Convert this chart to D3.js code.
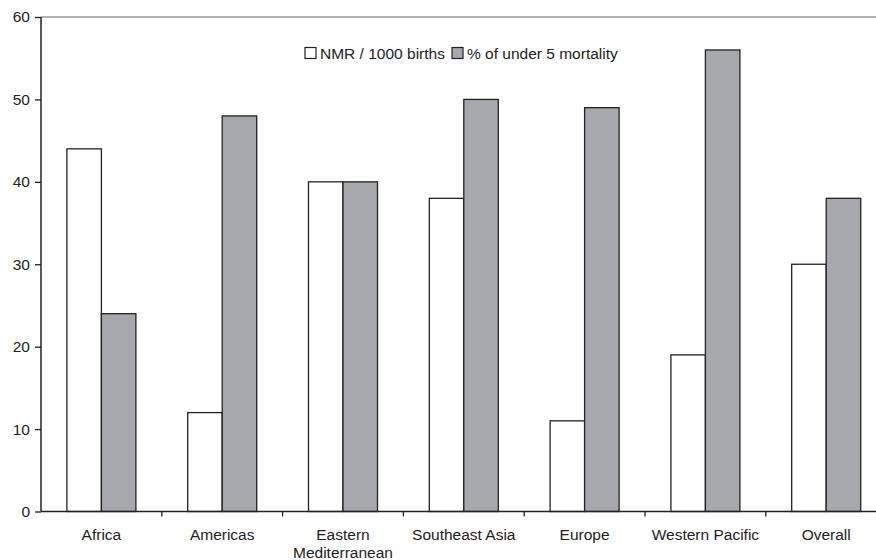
<!DOCTYPE html>
<html><head><meta charset="utf-8">
<script src="https://cdn.jsdelivr.net/npm/d3@7"></script>
<style>body{margin:0;background:#fff}svg{display:block}text{font-family:"Liberation Sans",Arial,sans-serif}</style>
</head><body>
<svg id="c" width="876" height="560"></svg>
<script>
const categories = ["Africa","Americas","Eastern Mediterranean","Southeast Asia","Europe","Western Pacific","Overall"];
const nmr = [44,12,40,38,11,19,30];
const under5 = [24,48,40,50,49,56,38];
const seriesNames = ["NMR / 1000 births","% of under 5 mortality"];
const yTicks = [0,10,20,30,40,50,60];

const svg = d3.select("#c");
const FS = 15.5;
const x0 = 41, band = 120.8;
const x = d3.scaleBand().domain(categories).range([x0, x0 + band*categories.length]).paddingInner(0).paddingOuter(0);
const y = d3.scaleLinear().domain([0,60]).range([511.5,17]);
const sub = d3.scaleBand().domain([0,1]).range([0,69]);
const colors = ["#ffffff","#a7a8ab"];
const ink = "#222";

// top line at 60
svg.append("line").attr("x1",x0).attr("x2",876).attr("y1",y(60)).attr("y2",y(60)).attr("stroke","#999").attr("stroke-width",1.5);

// bars
const data = categories.map((c,i)=>({c, v:[nmr[i],under5[i]]}));
const g = svg.append("g");
data.forEach(d=>{
  d.v.forEach((v,j)=>{
    const cx = x(d.c) + x.bandwidth()/2 - 34.5;
    g.append("rect").attr("x",cx + sub(j)).attr("y",y(v)).attr("width",sub.bandwidth()).attr("height",y(0)-y(v))
      .attr("fill",colors[j]).attr("stroke",ink).attr("stroke-width",1.3);
  });
});

// y axis
const ya = svg.append("g").attr("transform",`translate(${x0},0)`)
  .call(d3.axisLeft(y).tickValues(yTicks).tickSize(6).tickPadding(5).tickFormat(d3.format("d")));
ya.select(".domain").attr("stroke",ink).attr("stroke-width",1.5).attr("d",`M0,${y(0)}V${y(60)}`);
ya.selectAll(".tick line").attr("stroke",ink).attr("stroke-width",1.3);
ya.selectAll(".tick text").attr("fill",ink).attr("font-size",FS).attr("font-family","Liberation Sans, Arial, sans-serif");

// x axis
const xa = svg.append("g").attr("transform",`translate(0,${y(0)})`);
xa.append("line").attr("x1",x0).attr("x2",876).attr("y1",0).attr("y2",0).attr("stroke",ink).attr("stroke-width",1.5);
categories.forEach((c,i)=>{
  if(i>0) xa.append("line").attr("x1",x(c)).attr("x2",x(c)).attr("y1",0).attr("y2",5).attr("stroke",ink).attr("stroke-width",1.3);
  const t = xa.append("text").attr("x",x(c)+x.bandwidth()/2).attr("y",28.5).attr("text-anchor","middle")
    .attr("fill",ink).attr("font-size",FS);
  if(c==="Eastern Mediterranean"){
    t.append("tspan").attr("x",x(c)+x.bandwidth()/2).attr("dy",0).text("Eastern");
    t.append("tspan").attr("x",x(c)+x.bandwidth()/2).attr("dy",17.5).text("Mediterranean");
  } else t.text(c);
});

// legend
const lg = svg.append("g");
const lx = [305, 452];
seriesNames.forEach((s,j)=>{
  lg.append("rect").attr("x",lx[j]).attr("y",47.5).attr("width",11).attr("height",11).attr("fill",colors[j]).attr("stroke",ink).attr("stroke-width",1.2);
  lg.append("text").attr("x",lx[j]+15).attr("y",58.5).attr("fill",ink).attr("font-size",FS).text(s);
});
</script>
</body></html>
